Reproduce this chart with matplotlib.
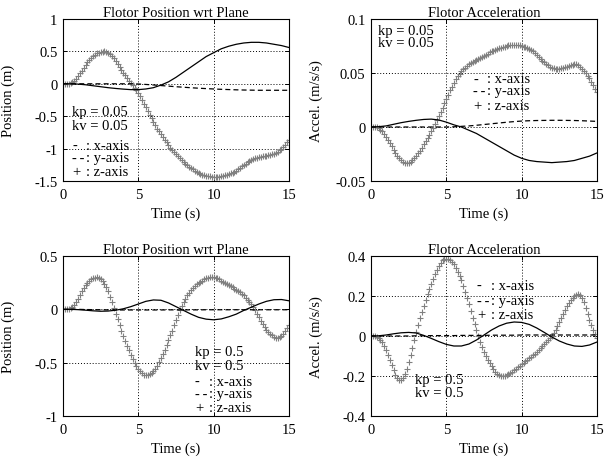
import numpy as np
import matplotlib
matplotlib.use("Agg")
import matplotlib.pyplot as plt

plt.rcParams['font.family'] = ['Liberation Serif', 'DejaVu Serif']
plt.rcParams['font.size'] = 10.5

# time grids
t_line = np.arange(0, 15.01, 0.5)
t_mark = np.arange(0, 15.0001, 0.125)

# ---- Panel 1: position, kp = kv = 0.05
pos1_x = [0, 0, -0.005, -0.015, -0.03, -0.045, -0.06, -0.072, -0.082, -0.09, -0.09,
          -0.08, -0.06, -0.02, 0.03, 0.10, 0.18, 0.26, 0.34, 0.42, 0.48,
          0.54, 0.58, 0.61, 0.63, 0.64, 0.64, 0.63, 0.61, 0.59, 0.56]
pos1_y = [0, 0, 0, 0, 0, 0, 0, 0, 0, 0, -0.003,
          -0.01, -0.018, -0.027, -0.036, -0.045, -0.053, -0.061, -0.068, -0.074, -0.08,
          -0.085, -0.089, -0.093, -0.096, -0.098, -0.1, -0.1, -0.1, -0.1, -0.1]
pos1_z = [0, 0, 0, 0.002, 0.01, 0.025, 0.05, 0.08,
          0.12, 0.16, 0.20, 0.245, 0.29, 0.33, 0.37, 0.40,
          0.43, 0.45, 0.47, 0.48, 0.49, 0.497, 0.50, 0.495,
          0.48, 0.46, 0.43, 0.395, 0.35, 0.305, 0.26, 0.215,
          0.17, 0.13, 0.09, 0.05, 0.01, -0.025, -0.06, -0.10,
          -0.14, -0.195, -0.25, -0.305, -0.36, -0.42, -0.48, -0.535,
          -0.59, -0.64, -0.69, -0.735, -0.78, -0.82, -0.86, -0.905,
          -0.95, -0.985, -1.02, -1.055, -1.09, -1.12, -1.15, -1.18,
          -1.21, -1.235, -1.26, -1.28, -1.30, -1.32, -1.34, -1.355,
          -1.37, -1.385, -1.40, -1.41, -1.42, -1.425, -1.43, -1.435,
          -1.44, -1.44, -1.44, -1.435, -1.43, -1.42, -1.41, -1.40,
          -1.39, -1.38, -1.37, -1.355, -1.34, -1.32, -1.30, -1.275,
          -1.25, -1.23, -1.21, -1.19, -1.17, -1.16, -1.15, -1.14,
          -1.13, -1.125, -1.12, -1.115, -1.11, -1.105, -1.10, -1.09,
          -1.08, -1.065, -1.05, -1.025, -1.00, -0.97, -0.94, -0.905,
          -0.87]

# ---- Panel 2: acceleration, kp = kv = 0.05
acc1_x = [0, 0.0003, 0.001, 0.0025, 0.004, 0.0052, 0.0062, 0.007, 0.0073, 0.0065, 0.0045,
          0.002, 0.0, -0.003, -0.006, -0.01, -0.014, -0.018, -0.022, -0.026, -0.029,
          -0.031, -0.032, -0.0325, -0.033, -0.0325, -0.032, -0.031, -0.029, -0.027, -0.024]
acc1_y = [0, 0, 0, 0, 0, 0, 0, 0, 0, 0, 0,
          0.0002, 0.0006, 0.001, 0.0016, 0.0023, 0.003, 0.0037, 0.0044, 0.005, 0.0055,
          0.0058, 0.006, 0.0061, 0.0062, 0.0062, 0.0061, 0.006, 0.0058, 0.0055, 0.0052]
acc1_z = [0, 0, 0, -0.0004, -0.001, -0.0025, -0.004, -0.0065,
          -0.009, -0.012, -0.015, -0.018, -0.021, -0.024, -0.027, -0.029,
          -0.031, -0.032, -0.033, -0.0333, -0.033, -0.032, -0.031, -0.029,
          -0.027, -0.0245, -0.022, -0.019, -0.016, -0.013, -0.010, -0.007,
          -0.004, -0.0005, 0.003, 0.0065, 0.010, 0.014, 0.018, 0.022,
          0.026, 0.030, 0.034, 0.0375, 0.041, 0.044, 0.047, 0.0495,
          0.052, 0.0535, 0.055, 0.0565, 0.058, 0.059, 0.060, 0.061,
          0.062, 0.063, 0.064, 0.065, 0.066, 0.067, 0.068, 0.069,
          0.070, 0.0705, 0.071, 0.072, 0.073, 0.0735, 0.074, 0.0745,
          0.075, 0.0755, 0.076, 0.076, 0.076, 0.076, 0.076, 0.0755,
          0.075, 0.0745, 0.074, 0.073, 0.072, 0.071, 0.070, 0.0685,
          0.067, 0.065, 0.063, 0.0615, 0.060, 0.0585, 0.057, 0.056,
          0.055, 0.0545, 0.054, 0.054, 0.054, 0.0545, 0.055, 0.0555,
          0.056, 0.0565, 0.057, 0.0575, 0.058, 0.058, 0.057, 0.0555,
          0.054, 0.052, 0.050, 0.0475, 0.045, 0.042, 0.039, 0.0355,
          0.032]

# ---- Panel 3: position, kp = kv = 0.5
pos2_x = [0, 0, -0.003, -0.008, -0.014, -0.018, -0.016, -0.008, 0.005, 0.025, 0.05,
          0.075, 0.088, 0.085, 0.06, 0.025, -0.01, -0.045, -0.075, -0.092, -0.098,
          -0.09, -0.07, -0.045, -0.01, 0.02, 0.05, 0.075, 0.09, 0.092, 0.08]
pos2_y = [0, 0, 0, -0.002, -0.003, -0.004, -0.005, -0.006, -0.006, -0.006, -0.006,
          -0.006, -0.006, -0.006, -0.005, -0.005, -0.005, -0.005, -0.005, -0.004, -0.004,
          -0.004, -0.004, -0.004, -0.004, -0.004, -0.004, -0.004, -0.004, -0.004, -0.004]
pos2_z = [0, 0, 0, 0.003, 0.01, 0.022, 0.04, 0.068,
          0.10, 0.135, 0.17, 0.20, 0.23, 0.25, 0.27, 0.283,
          0.29, 0.297, 0.30, 0.293, 0.28, 0.263, 0.24, 0.21,
          0.17, 0.12, 0.07, 0.015, -0.04, -0.095, -0.15, -0.20,
          -0.25, -0.295, -0.34, -0.385, -0.43, -0.465, -0.50, -0.53,
          -0.56, -0.58, -0.60, -0.613, -0.62, -0.618, -0.61, -0.597,
          -0.58, -0.557, -0.53, -0.497, -0.46, -0.42, -0.38, -0.335,
          -0.29, -0.245, -0.20, -0.15, -0.10, -0.055, -0.01, 0.03,
          0.07, 0.10, 0.13, 0.155, 0.18, 0.20, 0.22, 0.235,
          0.25, 0.26, 0.27, 0.28, 0.29, 0.295, 0.30, 0.30,
          0.30, 0.295, 0.29, 0.28, 0.27, 0.26, 0.25, 0.24,
          0.23, 0.22, 0.21, 0.195, 0.18, 0.17, 0.16, 0.145,
          0.13, 0.11, 0.09, 0.07, 0.05, 0.02, -0.01, -0.04,
          -0.07, -0.105, -0.14, -0.165, -0.19, -0.21, -0.23, -0.245,
          -0.26, -0.267, -0.27, -0.263, -0.25, -0.227, -0.20, -0.175,
          -0.15]

# ---- Panel 4: acceleration, kp = kv = 0.5
acc2_x = [0, 0.001, 0.005, 0.011, 0.016, 0.018, 0.015, 0.003, -0.012, -0.028, -0.042,
          -0.05, -0.05, -0.04, -0.02, 0.005, 0.03, 0.05, 0.064, 0.07, 0.068,
          0.058, 0.04, 0.018, -0.005, -0.025, -0.04, -0.05, -0.052, -0.045, -0.03]
acc2_y = [0, 0, 0, 0, 0, 0, 0.001, 0.001, 0.002, 0.002, 0.002,
          0.002, 0.003, 0.003, 0.003, 0.003, 0.004, 0.004, 0.004, 0.004, 0.005,
          0.005, 0.005, 0.005, 0.005, 0.005, 0.005, 0.005, 0.005, 0.005, 0.005]
acc2_z = [0, 0, 0, -0.004, -0.01, -0.018, -0.03, -0.048,
          -0.07, -0.095, -0.12, -0.145, -0.17, -0.195, -0.21, -0.218,
          -0.22, -0.21, -0.19, -0.163, -0.13, -0.095, -0.06, -0.02,
          0.02, 0.055, 0.09, 0.12, 0.15, 0.18, 0.21, 0.235,
          0.26, 0.285, 0.31, 0.33, 0.35, 0.367, 0.38, 0.384,
          0.385, 0.384, 0.38, 0.372, 0.36, 0.342, 0.32, 0.30,
          0.28, 0.25, 0.22, 0.19, 0.16, 0.125, 0.09, 0.06,
          0.03, 0.0, -0.03, -0.055, -0.08, -0.10, -0.12, -0.135,
          -0.15, -0.165, -0.18, -0.188, -0.195, -0.198, -0.20, -0.198,
          -0.195, -0.19, -0.185, -0.178, -0.17, -0.163, -0.155, -0.148,
          -0.14, -0.133, -0.125, -0.118, -0.11, -0.103, -0.095, -0.088,
          -0.08, -0.07, -0.06, -0.05, -0.04, -0.03, -0.02, -0.01,
          0.0, 0.015, 0.03, 0.05, 0.07, 0.09, 0.11, 0.13,
          0.15, 0.165, 0.18, 0.19, 0.20, 0.207, 0.21, 0.203,
          0.19, 0.168, 0.14, 0.11, 0.08, 0.055, 0.03, 0.01,
          -0.01]

xticks = [0, 5, 10, 15]
pos1_ticks = [-1.5, -1, -0.5, 0, 0.5, 1]
acc1_ticks = [-0.05, 0, 0.05, 0.1]
pos2_ticks = [-1, -0.5, 0, 0.5]
acc2_ticks = [-0.4, -0.2, 0, 0.2, 0.4]

W, H = 607, 460
fig = plt.figure(figsize=(W / 100, H / 100), dpi=100)

def make_ax(l, b, r, t):
    return fig.add_axes([l / W, 1 - b / H, (r - l) / W, (b - t) / H])

axes = [make_ax(63, 182, 289, 20), make_ax(371, 182, 597, 20),
        make_ax(63, 417, 289, 257), make_ax(371, 417, 597, 257)]

specs = [
    (axes[0], pos1_x, pos1_y, pos1_z, pos1_ticks, "Flotor Position wrt Plane", "Position (m)"),
    (axes[1], acc1_x, acc1_y, acc1_z, acc1_ticks, "Flotor Acceleration", "Accel. (m/s/s)"),
    (axes[2], pos2_x, pos2_y, pos2_z, pos2_ticks, "Flotor Position wrt Plane", "Position (m)"),
    (axes[3], acc2_x, acc2_y, acc2_z, acc2_ticks, "Flotor Acceleration", "Accel. (m/s/s)"),
]

fs = 10.5
for ax, sx, sy, sz, yt, title, ylab in specs:
    ax.plot(t_mark, sz, linestyle='none', marker='+', ms=4.5, mew=0.8, color='#808080', zorder=2)
    ax.plot(t_line, sx, '-', color='black', lw=0.9, zorder=3)
    ax.plot(t_line, sy, '--', color='black', lw=0.9, dashes=(4, 2.5), zorder=3)
    ax.set_xlim(0, 15)
    ax.set_ylim(yt[0], yt[-1])
    ax.set_xticks(xticks)
    ax.set_yticks(yt)
    ax.set_yticklabels(['%g' % v for v in yt])
    ax.grid(True, color='black', linestyle=(0, (1, 2)), linewidth=0.7)
    ax.tick_params(direction='in', top=True, right=True, length=3, width=0.7,
                   labelsize=fs)
    ax.tick_params(axis='x', pad=5)
    ax.tick_params(axis='y', pad=4)
    for sp in ax.spines.values():
        sp.set_linewidth(0.8)
    ax.set_title(title, fontsize=fs, pad=2)
    ax.set_xlabel("Time (s)", fontsize=fs, labelpad=4)
    ax.set_ylabel(ylab, fontsize=fs)
    ax.yaxis.set_label_coords(-0.212, 0.5)

def annotate(ax, kx, kys, kp, kv, lx, lys):
    ax.text(kx, kys[0], "kp = " + kp, transform=ax.transAxes, fontsize=fs, va='center')
    ax.text(kx, kys[1], "kv = " + kv, transform=ax.transAxes, fontsize=fs, va='center')
    for yy, sym, lab in zip(lys, ["-", "-\u2009-", "+"], [": x-axis", ": y-axis", ": z-axis"]):
        ax.text(lx, yy, sym, transform=ax.transAxes, fontsize=fs, va='center')
        ax.text(lx + 0.062, yy, lab, transform=ax.transAxes, fontsize=fs, va='center')

annotate(axes[0], 0.04, (0.432, 0.34), "0.05", "0.05", 0.04, (0.222, 0.142, 0.056))
annotate(axes[1], 0.03, (0.926, 0.852), "0.05", "0.05", 0.453, (0.63, 0.556, 0.463))
annotate(axes[2], 0.584, (0.401, 0.318), "0.5", "0.5", 0.584, (0.215, 0.143, 0.05))
annotate(axes[3], 0.196, (0.225, 0.149), "0.5", "0.5", 0.469, (0.816, 0.722, 0.634))

fig.savefig("out.png", dpi=100)
